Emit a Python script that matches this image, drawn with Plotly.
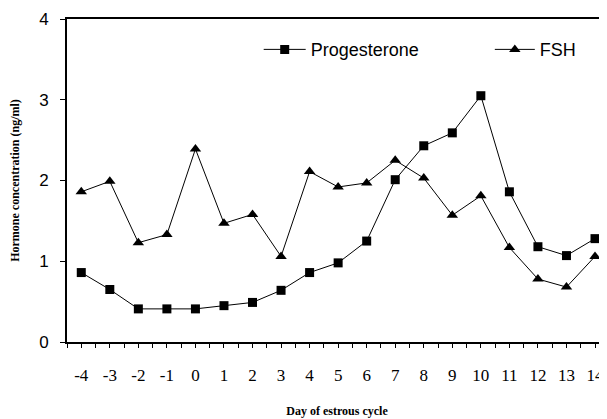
import plotly.graph_objects as go

days = [-4, -3, -2, -1, 0, 1, 2, 3, 4, 5, 6, 7, 8, 9, 10, 11, 12, 13, 14]
progesterone = [0.86, 0.65, 0.41, 0.41, 0.41, 0.45, 0.49, 0.64, 0.86, 0.98, 1.25,
                2.01, 2.43, 2.59, 3.05, 1.86, 1.18, 1.07, 1.28]
fsh = [1.86, 1.99, 1.23, 1.33, 2.39, 1.47, 1.58, 1.06, 2.11, 1.92, 1.97,
       2.25, 2.03, 1.57, 1.81, 1.17, 0.78, 0.68, 1.06]
y_ticks = [0, 1, 2, 3, 4]

fig = go.Figure()
fig.add_trace(go.Scatter(x=days, y=progesterone, name="Progesterone", mode="lines+markers",
                         line=dict(color="black", width=1),
                         marker=dict(symbol="square", size=9, color="black"),
                         legend="legend"))
fig.add_trace(go.Scatter(x=days, y=fsh, name="FSH", mode="lines+markers",
                         line=dict(color="black", width=1),
                         marker=dict(symbol="triangle-up", size=10, color="black"),
                         legend="legend2"))

leg_font = dict(family="Liberation Sans, Arial", size=18, color="black")
fig.update_layout(
    width=599, height=411,
    margin=dict(l=59, r=0, t=11, b=77),
    paper_bgcolor="white", plot_bgcolor="white",
    showlegend=True,
    legend=dict(x=0.355, y=0.905, xanchor="left", yanchor="middle",
                font=leg_font, itemwidth=42, bgcolor="rgba(0,0,0,0)"),
    legend2=dict(x=0.783, y=0.905, xanchor="left", yanchor="middle",
                 font=leg_font, itemwidth=40, bgcolor="rgba(0,0,0,0)"),
    xaxis=dict(range=[-4.5, 14.42], tickmode="array", tickvals=days,
               ticktext=[str(d) for d in days], automargin=False,
               showline=True, linecolor="black", linewidth=2, mirror=True,
               ticks="outside", ticklen=4, tickcolor="black", tickwidth=1,
               ticklabelstandoff=13,
               minor=dict(ticks="outside", ticklen=4, tickcolor="black", dtick=0.5, tick0=-4.5),
               showgrid=False, zeroline=False,
               tickfont=dict(family="Liberation Serif, Times New Roman", size=17, color="black"),
               title=dict(text="<b>Day of estrous cycle</b>", standoff=22,
                          font=dict(family="Liberation Serif, Times New Roman", size=12, color="black"))),
    yaxis=dict(range=[0, 4], tickvals=y_ticks, automargin=False,
               showline=True, linecolor="black", linewidth=2,
               ticks="outside", ticklen=5, tickcolor="black",
               ticklabelstandoff=8,
               showgrid=False, zeroline=False,
               tickfont=dict(family="Liberation Sans, Arial", size=17, color="black"),
               title=dict(text="<b>Hormone concentration (ng/ml)</b>", standoff=20,
                          font=dict(family="Liberation Serif, Times New Roman", size=12, color="black"))),
)

fig.write_html("out.html")
